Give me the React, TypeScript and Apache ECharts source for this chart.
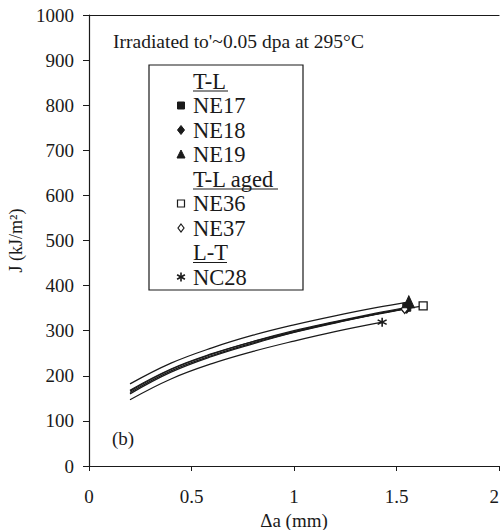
import React, { useEffect, useRef } from "react";
import * as echarts from "echarts";

// Δa (mm) sample positions and J (kJ/m²) values
const ne17X = [0.2, 0.4, 0.6, 0.8, 1.0, 1.2, 1.4, 1.55];
const ne17J = [166, 214, 248, 276, 300, 320, 339, 352];
const ne18X = [0.2, 0.4, 0.6, 0.8, 1.0, 1.2, 1.4, 1.55];
const ne18J = [163, 211, 245, 273, 297, 318, 337, 350];
const ne19X = [0.2, 0.4, 0.6, 0.8, 1.0, 1.2, 1.4, 1.56];
const ne19J = [182, 228, 262, 290, 313, 333, 351, 364];
const ne36X = [0.2, 0.4, 0.6, 0.8, 1.0, 1.2, 1.4, 1.63];
const ne36J = [168, 215, 249, 276, 298, 319, 337, 355];
const ne37X = [0.2, 0.4, 0.6, 0.8, 1.0, 1.2, 1.4, 1.54];
const ne37J = [160, 208, 243, 271, 296, 317, 336, 348];
const nc28X = [0.2, 0.4, 0.6, 0.8, 1.0, 1.2, 1.43];
const nc28J = [147, 193, 227, 254, 277, 298, 319];

const groupHeaders = ["T-L", "T-L aged", "L-T"];
const legendRows = [
  { kind: "header", label: "T-L", width: 35 },
  { kind: "item", label: "NE17", mark: "fsquare" },
  { kind: "item", label: "NE18", mark: "fdiamond" },
  { kind: "item", label: "NE19", mark: "ftriangle" },
  { kind: "header", label: "T-L aged", width: 85 },
  { kind: "item", label: "NE36", mark: "osquare" },
  { kind: "item", label: "NE37", mark: "odiamond" },
  { kind: "header", label: "L-T", width: 34 },
  { kind: "item", label: "NC28", mark: "star" },
];

const annotation = "Irradiated to'~0.05 dpa at 295°C";
const panelLabel = "(b)";

const FONT = "Liberation Serif";
const INK = "#1a1a1a";
const STAR_PATH = "path://M5 0 L5 10 M0.7 2.5 L9.3 7.5 M0.7 7.5 L9.3 2.5";

function endMarker(mark: string) {
  const filled = { color: INK, borderColor: INK, borderWidth: 1 };
  const open = { color: "#fff", borderColor: INK, borderWidth: 1.3 };
  switch (mark) {
    case "fsquare":
      return { symbol: "rect", symbolSize: 8, itemStyle: filled };
    case "fdiamond":
      return { symbol: "diamond", symbolSize: [8, 10], itemStyle: filled };
    case "ftriangle":
      return { symbol: "triangle", symbolSize: [11, 12], itemStyle: filled };
    case "osquare":
      return { symbol: "rect", symbolSize: 8, itemStyle: open };
    case "odiamond":
      return { symbol: "diamond", symbolSize: [7, 9], itemStyle: open };
    default:
      return { symbol: STAR_PATH, symbolSize: 9, itemStyle: { color: "none", borderColor: INK, borderWidth: 1.6 } };
  }
}

function makeSeries(name: string, xs: number[], js: number[], mark: string) {
  const last = xs.length - 1;
  return {
    name,
    type: "line",
    smooth: 0.4,
    symbol: "none",
    showSymbol: true,
    xAxisIndex: 0,
    lineStyle: { color: INK, width: 1.25 },
    z: 3,
    data: xs.map((x, i) => (i === last ? { value: [x, js[i]], ...endMarker(mark) } : [x, js[i]])),
  };
}

function legendMarkGraphic(mark: string, cx: number, cy: number): any {
  const fill = { fill: INK, stroke: INK, lineWidth: 1 };
  const open = { fill: "#fff", stroke: INK, lineWidth: 1.2 };
  switch (mark) {
    case "fsquare":
      return { type: "rect", shape: { x: cx - 3.5, y: cy - 3.5, width: 7, height: 7 }, style: fill };
    case "fdiamond":
      return { type: "polygon", shape: { points: [[cx, cy - 4.5], [cx + 3.5, cy], [cx, cy + 4.5], [cx - 3.5, cy]] }, style: fill };
    case "ftriangle":
      return { type: "polygon", shape: { points: [[cx, cy - 4.5], [cx + 4, cy + 3.5], [cx - 4, cy + 3.5]] }, style: fill };
    case "osquare":
      return { type: "rect", shape: { x: cx - 3.5, y: cy - 3.5, width: 7, height: 7 }, style: open };
    case "odiamond":
      return { type: "polygon", shape: { points: [[cx, cy - 4], [cx + 3, cy], [cx, cy + 4], [cx - 3, cy]] }, style: open };
    default:
      return {
        type: "group",
        children: [
          { type: "line", shape: { x1: cx, y1: cy - 4.5, x2: cx, y2: cy + 4.5 }, style: { stroke: INK, lineWidth: 1.6 } },
          { type: "line", shape: { x1: cx - 3.9, y1: cy - 2.3, x2: cx + 3.9, y2: cy + 2.3 }, style: { stroke: INK, lineWidth: 1.6 } },
          { type: "line", shape: { x1: cx - 3.9, y1: cy + 2.3, x2: cx + 3.9, y2: cy - 2.3 }, style: { stroke: INK, lineWidth: 1.6 } },
        ],
      };
  }
}

export default function App() {
  const ref = useRef<HTMLDivElement>(null);
  useEffect(() => {
    if (!ref.current) return;
    const chart = echarts.init(ref.current, null, { renderer: "svg" });

    const legendLeft = 149;
    const legendTop = 65;
    const textX = 193;
    const markX = 181;
    const rowStart = 81;
    const rowStep = 24.5;
    const legendChildren: any[] = [
      {
        type: "rect",
        shape: { x: legendLeft, y: legendTop, width: 154, height: 225 },
        style: { fill: "#fff", stroke: INK, lineWidth: 1.2 },
      },
    ];
    legendRows.forEach((row: any, i) => {
      const cy = rowStart + i * rowStep;
      legendChildren.push({
        type: "text",
        x: textX,
        y: cy,
        style: {
          text: row.label,
          fontFamily: FONT,
          fontSize: 22.5,
          fill: INK,
          verticalAlign: "middle",
          align: "left",
        },
      });
      if (row.kind === "header" && groupHeaders.includes(row.label)) {
        legendChildren.push({
          type: "line",
          shape: { x1: textX, y1: cy + 10, x2: textX + row.width, y2: cy + 10 },
          style: { stroke: INK, lineWidth: 1.2 },
        });
      } else {
        legendChildren.push(legendMarkGraphic(row.mark, markX, cy));
      }
    });

    chart.setOption({
      animation: false,
      backgroundColor: "#fff",
      grid: {
        left: 89,
        top: 15,
        right: 1,
        bottom: 64,
        outerBoundsMode: "none",
        show: false,
      },
      xAxis: [
        {
          type: "value",
          min: 0,
          max: 2,
          interval: 0.5,
          name: "Δa (mm)",
          nameLocation: "middle",
          nameGap: 35,
          nameTextStyle: { fontFamily: FONT, fontSize: 19, color: INK },
          axisLine: { show: true, lineStyle: { color: INK, width: 1.2 } },
          axisTick: { show: true, inside: false, length: 5, lineStyle: { color: INK } },
          axisLabel: { margin: 21, fontFamily: FONT, fontSize: 19, color: INK, alignMaxLabel: "right" },
          splitLine: { show: false },
        },
        {
          type: "value",
          position: "top",
          min: 0,
          max: 2,
          interval: 0.5,
          axisLine: { show: true, lineStyle: { color: INK, width: 1.2 } },
          axisTick: { show: false },
          axisLabel: { show: false },
          splitLine: { show: false },
        },
      ],
      yAxis: {
        type: "value",
        min: 0,
        max: 1000,
        interval: 100,
        name: "J (kJ/m²)",
        nameLocation: "middle",
        nameGap: 49,
        nameRotate: 90,
        nameTextStyle: { fontFamily: FONT, fontSize: 18, color: INK },
        axisLine: { show: true, lineStyle: { color: INK, width: 1.2 } },
        axisTick: { show: true, inside: false, length: 6, lineStyle: { color: INK } },
        axisLabel: {
          margin: 15,
          fontFamily: FONT,
          fontSize: 19,
          color: INK,
          formatter: (v: number) => String(v),
        },
        splitLine: { show: false },
      },
      series: [
        makeSeries("NE17", ne17X, ne17J, "fsquare"),
        makeSeries("NE18", ne18X, ne18J, "fdiamond"),
        makeSeries("NE36", ne36X, ne36J, "osquare"),
        makeSeries("NE37", ne37X, ne37J, "odiamond"),
        makeSeries("NE19", ne19X, ne19J, "ftriangle"),
        makeSeries("NC28", nc28X, nc28J, "star"),
      ],
      graphic: [
        {
          type: "text",
          x: 113,
          y: 41,
          style: { text: annotation, fontFamily: FONT, fontSize: 19.5, fill: INK, verticalAlign: "middle" },
        },
        {
          type: "text",
          x: 112,
          y: 438,
          style: { text: panelLabel, fontFamily: FONT, fontSize: 19, fill: INK, verticalAlign: "middle" },
        },
        { type: "group", children: legendChildren },
      ],
    });
    return () => chart.dispose();
  }, []);
  return (
    <div
      ref={ref}
      style={{ position: "absolute", left: 0, top: 0, width: 500, height: 530, background: "#fff" }}
    />
  );
}
